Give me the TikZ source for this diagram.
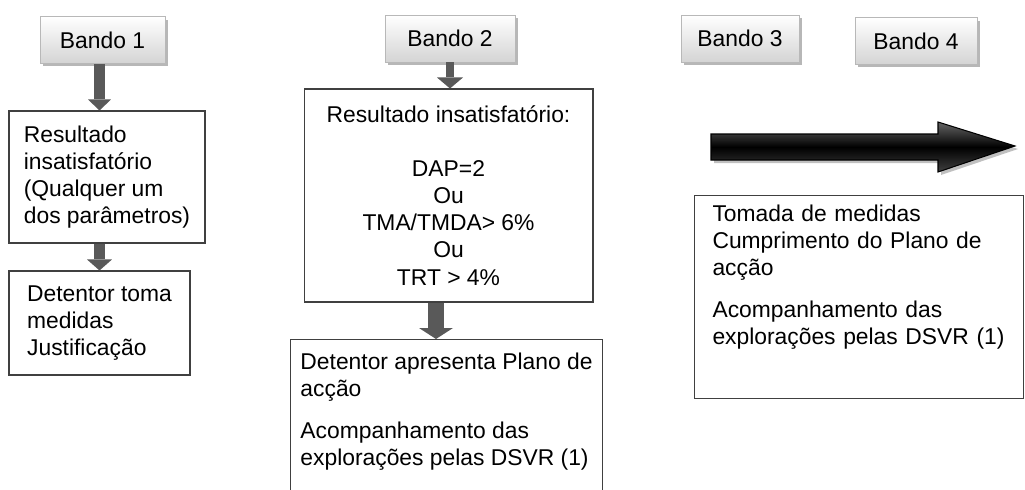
\documentclass[tikz,border=0pt]{standalone}
\usepackage{fontspec}
\setmainfont{Liberation Sans}
\usetikzlibrary{arrows.meta, shadows}
\definecolor{BoxLine}{HTML}{404040}
\definecolor{ArrowGray}{HTML}{595959}
\definecolor{BandoLine}{HTML}{B8B8B8}
\definecolor{BandoBottom}{HTML}{D4D4D4}
\definecolor{ShadowGray}{HTML}{A6A6A6}

\begin{document}
\begin{tikzpicture}[x=0.02cm, y=-0.02cm, font=\fontsize{13pt}{15.4pt}\selectfont,
  bandobox/.style={draw=BandoLine, top color=white, bottom color=BandoBottom, line width=0.5pt, minimum height=0.94cm, inner sep=0pt, drop shadow={shadow xshift=0.06cm, shadow yshift=-0.06cm, fill=ShadowGray, opacity=0.8}},
  textbox/.style={draw=BoxLine, fill=white, line width=0.6pt, align=left, inner sep=0pt},
  blockarrow/.style args={#1/#2}{draw=ArrowGray, line width=#1, -{Triangle[length=0.22cm, width=#2, line width=0pt]}},
  bigarrow/.style={draw=black, line width=0.6pt, top color=black!60, bottom color=black!75, middle color=black}]
\fill[white] (0,0) rectangle (1025,490);
\useasboundingbox (0,0) rectangle (1025,490);
% bandos
\node[bandobox, minimum width=2.5cm] (bando1) at (102.5,40) {Bando 1};
\node[bandobox, minimum width=2.6cm] (bando2) at (450,38.5) {Bando 2};
\node[bandobox, minimum width=2.36cm] (bando3) at (740,38.5) {Bando 3};
\node[bandobox, minimum width=2.44cm] (bando4) at (916,41) {Bando 4};
% bando 1
\node[textbox, minimum width=3.92cm, minimum height=2.64cm] (res1) at (107,177) {Resultado\\insatisfatório\\(Qualquer um\\dos parâmetros)};
\node[textbox, minimum width=3.62cm, minimum height=2.08cm] (det1) at (99.5,323) {Detentor toma\\medidas\\Justificação};
% bando 2
\node[textbox, align=center, minimum width=5.78cm, minimum height=4.26cm] (res2) at (448.5,195.5) {Resultado insatisfatório:\\[15.4pt]DAP=2\\Ou\\TMA/TMDA> 6\%\\Ou\\TRT > 4\%};
\node[textbox, anchor=north west, minimum width=6.24cm, inner ysep=0.27cm] (det2) at (290,339) {Detentor apresenta Plano de\\acção\\[0.3cm]Acompanhamento das\\explorações pelas DSVR (1)\\[2cm]\mbox{}};
% bandos 3 e 4
\node[textbox, anchor=north west, text width=5.86cm, inner xsep=0.36cm, inner ysep=0.19cm] (toma) at (694,195) {Tomada de medidas\\Cumprimento do Plano de\\acção\\[0.3cm]Acompanhamento das\\explorações pelas DSVR (1)\\[0.35cm]\mbox{}};
\draw[blockarrow=0.22cm/0.46cm] (bando1.south -| det1.north) -- (res1.north -| det1.north);
\draw[blockarrow=0.24cm/0.5cm] (res1.south -| det1.north) -- (det1.north);
\draw[blockarrow=0.16cm/0.52cm] (bando2.south) -- (bando2.south |- res2.north);
\draw[blockarrow=0.32cm/0.68cm] ([xshift=-0.25cm]res2.south) -- ([xshift=-0.25cm]res2.south |- det2.north);
% seta grande
\fill[ShadowGray, opacity=0.7] (714,137) -- (941,137) -- (941,125) -- (1018,149) -- (941,175) -- (941,163) -- (714,163) -- cycle;
\draw[bigarrow] (711,134) -- (938,134) -- (938,122) -- (1015,146) -- (938,172) -- (938,160) -- (711,160) -- cycle;
\end{tikzpicture}
\end{document}
